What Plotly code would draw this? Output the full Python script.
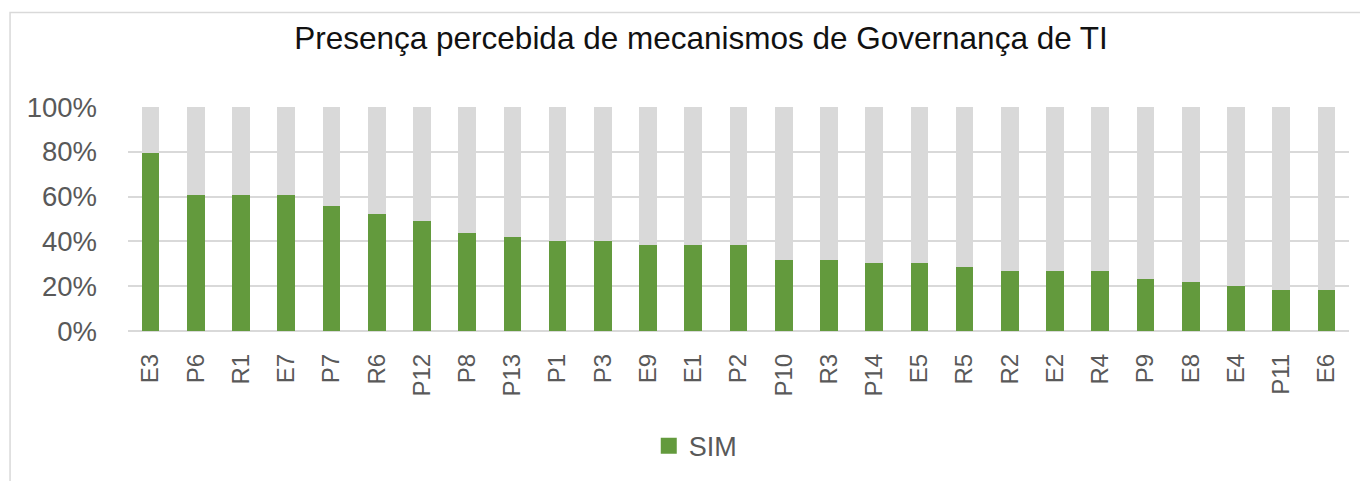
import plotly.graph_objects as go

categories = ["E3", "P6", "R1", "E7", "P7", "R6", "P12", "P8", "P13", "P1", "P3", "E9", "E1", "P2",
              "P10", "R3", "P14", "E5", "R5", "R2", "E2", "R4", "P9", "E8", "E4", "P11", "E6"]
sim = [0.795, 0.608, 0.608, 0.608, 0.556, 0.522, 0.489, 0.437, 0.420, 0.404, 0.404, 0.386, 0.386, 0.386,
       0.319, 0.319, 0.302, 0.302, 0.284, 0.267, 0.267, 0.267, 0.233, 0.217, 0.199, 0.183, 0.183]
nao = [round(1 - v, 3) for v in sim]

GREEN = "#639A3D"
GRAY = "#D9D9D9"
TXT = "#595959"

fig = go.Figure()
fig.add_trace(go.Bar(x=categories, y=sim, name="SIM", marker=dict(color=GREEN, line=dict(width=0)),
                     showlegend=False))
fig.add_trace(go.Bar(x=categories, y=nao, name="NÃO", marker=dict(color=GRAY, line=dict(width=0)),
                     showlegend=False))
# legend entry for SIM (larger square swatch, as in the reference)
fig.add_trace(go.Scatter(x=[categories[0]], y=[None], mode="markers", name="SIM",
                         marker=dict(symbol="square", size=18, color=GREEN), showlegend=True,
                         hoverinfo="skip"))

fig.update_layout(
    barmode="stack",
    bargap=0.61,
    width=1360, height=473,
    margin=dict(l=120, r=19, t=99, b=149),
    paper_bgcolor="white", plot_bgcolor="white",
    font=dict(family="Liberation Sans, Arial, sans-serif", color=TXT),
    title=dict(text="Presença percebida de mecanismos de Governança de TI",
               x=0.5096, xanchor="center", y=0.937, yanchor="middle",
               font=dict(size=31.5, color="#111111", family="Liberation Sans, Arial, sans-serif")),
    xaxis=dict(type="category", range=[-0.5, len(categories) - 0.5], tickangle=-90,
               tickfont=dict(size=24, color=TXT), showgrid=False,
               showline=False, ticks="", ticklabelstandoff=17),
    yaxis=dict(range=[0, 1], tickvals=[0, 0.2, 0.4, 0.6, 0.8, 1.0], tickformat=".0%",
               tickfont=dict(size=27.5, color=TXT), gridcolor=GRAY, gridwidth=1.5,
               zeroline=True, zerolinecolor=GRAY, zerolinewidth=1.5, ticks="", ticklabelstandoff=30),
    legend=dict(orientation="h", x=0.465, xanchor="center", y=-0.507, yanchor="middle",
                font=dict(size=27, color=TXT), itemwidth=30),
    shapes=[dict(type="rect", xref="paper", yref="paper", x0=-0.0966, x1=1.2, y0=-1.0, y1=1.422,
                 line=dict(color=GRAY, width=1.5), fillcolor="rgba(0,0,0,0)", layer="below")],
)

fig.write_html("out.html")
